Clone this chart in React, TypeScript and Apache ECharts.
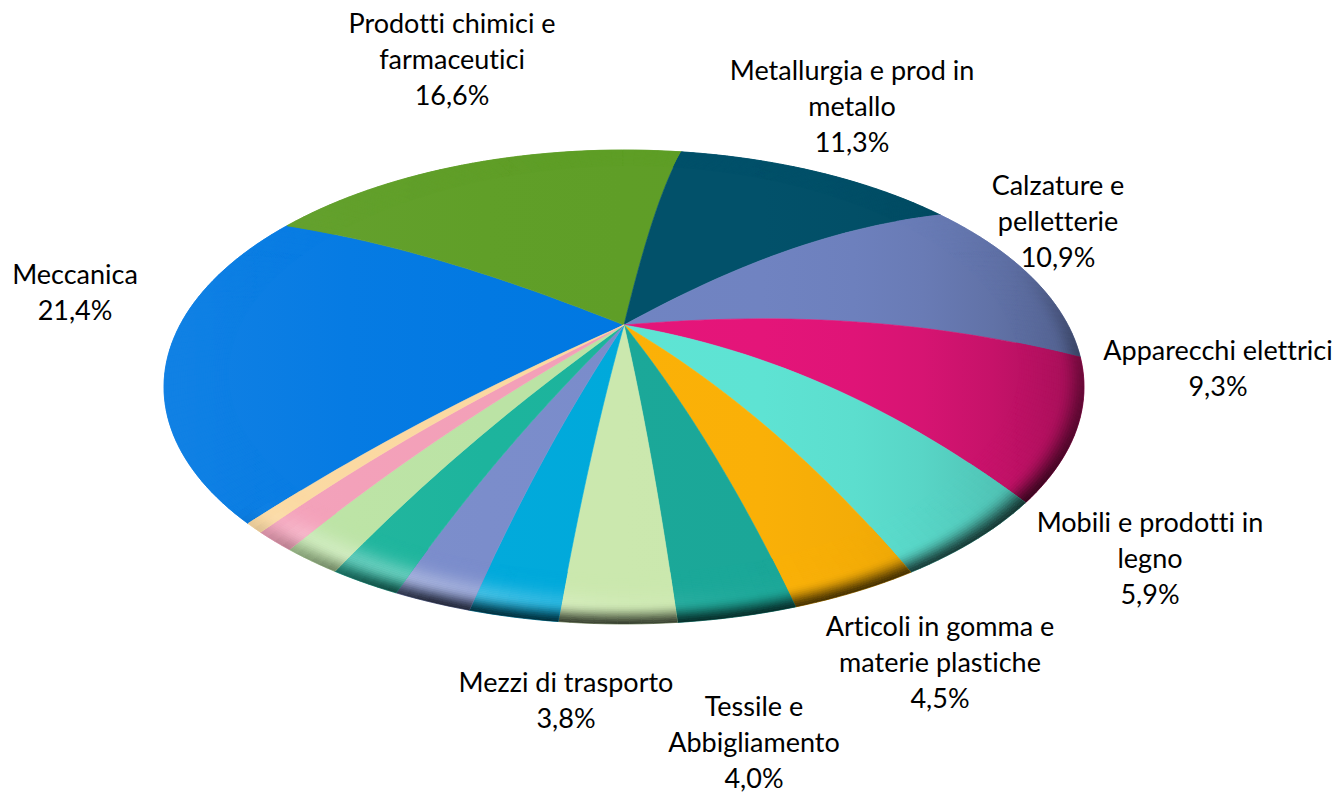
import React, { useEffect, useRef } from "react";
import * as echarts from "echarts";

// Clockwise from the first slice. The last six slices carry no label in the chart.
const categories = [
  "Meccanica",
  "Prodotti chimici e\nfarmaceutici",
  "Metallurgia e prod in\nmetallo",
  "Calzature e\npelletterie",
  "Apparecchi elettrici",
  "Mobili e prodotti in\nlegno",
  "Articoli in gomma e\nmaterie plastiche",
  "Tessile e\nAbbigliamento",
  "Mezzi di trasporto",
  "", "", "", "", "", "",
];
const shares = [21.4, 16.6, 11.3, 10.9, 9.3, 5.9, 4.5, 4.0, 3.8, 3.0, 2.7, 2.5, 2.1, 1.5, 0.7];
const colors = [
  "#0078E2", "#5F9E27", "#02516A", "#7084C2", "#E5157A", "#5EE4D4", "#FBB107", "#1BA899",
  "#CBE8AE", "#00A9DB", "#7A8CCB", "#1CB49C", "#BBE3A4", "#F39FB8", "#FBD8A0",
];
const labelCentres: [number, number][] = [
  [75, 291], [452, 58], [852, 105], [1058, 220], [1218, 367], [1150, 557], [940, 661], [754, 741], [566, 699],
];

const CX = 624, CY = 387, A = 460, B = 237, DOME = 62;
const RAD = Math.PI / 180;
const total = shares.reduce((s, v) => s + v, 0);
let running = 0;
const rows = shares.map((v) => {
  const r = [running, running + v];
  running += v;
  return r;
});

// Share position -> rim angle (degrees, clockwise from the top), with the slight perspective drift.
const rimAngle = (share: number) => {
  const t = (share / total) * 360;
  return (
    t + 231.7 +
    5 * Math.cos((t - 30) * RAD) +
    1.3 * Math.cos(2 * (t - 100) * RAD) +
    1.3 * Math.exp(-Math.pow((t - 238) / 24, 2)) -
    1.0 * Math.exp(-Math.pow((t - 295) / 18, 2))
  );
};
const tilt = (deg: number) => {
  const d = ((deg % 360) + 360) % 360;
  const left = d > 180 ? 10 * Math.abs(Math.sin(d * RAD)) : 0;
  return left - 12 * Math.exp(-Math.pow((d - 115) / 24, 2));
};
const project = (r: number, deg: number): [number, number] => [
  CX + A * r * Math.sin(deg * RAD),
  CY - B * r * Math.cos(deg * RAD) - DOME * (1 - Math.pow(r, 2.2)) + 4 * r * (1 - r) * tilt(deg),
];

const hexRgb = (h: string) => [1, 3, 5].map((i) => parseInt(h.slice(i, i + 2), 16));
const mix = (c: number[], to: number, k: number) => c.map((v) => v + (to - v) * k);
const css = (c: number[]) => `rgb(${c.map((v) => Math.round(v)).join(",")})`;
const smooth = (a: number, b: number, x: number) => {
  const t = Math.min(1, Math.max(0, (x - a) / (b - a)));
  return t * t * (3 - 2 * t);
};
const broad = (c: number[], tx: number) =>
  tx > 0 ? mix(c, 0, 0.3 * Math.pow(tx, 3.5)) : mix(c, 255, 0.07 * tx * tx);

const RIM_FROM = 0.86;
const rimColour = (c: number[], r: number, deg: number) => {
  const d = ((deg % 360) + 360) % 360;
  const x = CX + A * r * Math.sin(d * RAD);
  let out = broad(c, (x - CX) / A);
  const u = (r - RIM_FROM) / (1 - RIM_FROM);
  const hi =
    Math.exp(-Math.pow((d - 212) / 30, 2)) *
    (1 - smooth(226, 238, d)) *
    Math.exp(-Math.pow((u - 0.66) / 0.26, 2)) *
    0.3;
  out = mix(out, 255, hi);
  const darkW = d < 60 ? 0 : d < 120 ? (d - 60) / 60 : d < 205 ? 1 : d < 238 ? (238 - d) / 33 : 0;
  const dk = darkW * 0.72 * Math.pow(smooth(0.55, 1.02, u), 1.6);
  return css(mix(out, 0, dk));
};

const RIM_BANDS: number[] = [];
for (let k = 0; k <= 28; k++) RIM_BANDS.push(RIM_FROM + (1 - RIM_FROM) * (k / 28));

function renderSlice(params: any, api: any) {
  const i = params.dataIndex;
  const a0 = rimAngle(api.value(0));
  const a1 = rimAngle(api.value(1));
  const base = hexRgb(colors[i]);
  const n = Math.max(2, Math.ceil((a1 - a0) / 1.5));
  const angle = (k: number) => a0 + ((a1 - a0) * k) / n;

  const pts: [number, number][] = [];
  for (let k = 0; k <= 30; k++) pts.push(project(k / 30, a0));
  for (let k = 1; k <= n; k++) pts.push(project(1, angle(k)));
  for (let k = 29; k > 0; k--) pts.push(project(k / 30, a1));

  const stops = [-1, -0.6, -0.3, 0, 0.3, 0.5, 0.65, 0.8, 0.9, 1].map((tx) => ({
    offset: (tx + 1) / 2,
    color: css(broad(base, tx)),
  }));
  const grad = new echarts.graphic.LinearGradient(CX - A, 0, CX + A, 0, stops, true);

  const children: any[] = [
    { type: "polygon", shape: { points: pts }, style: { fill: grad, stroke: grad, lineWidth: 0.6 }, silent: true },
  ];
  for (let b = 0; b < RIM_BANDS.length - 1; b++) {
    const r0 = RIM_BANDS[b];
    const r1 = RIM_BANDS[b + 1];
    for (let k = 0; k < n; k++) {
      const p0 = angle(k);
      const p1 = angle(k + 1);
      const fill = rimColour(base, (r0 + r1) / 2, (p0 + p1) / 2);
      children.push({
        type: "polygon",
        shape: { points: [project(r0, p0), project(r0, p1), project(r1, p1), project(r1, p0)] },
        style: { fill, stroke: fill, lineWidth: 0.5 },
        silent: true,
      });
    }
  }
  return { type: "group", children };
}

const labelText = (i: number) => `${categories[i]}\n${shares[i].toFixed(1).replace(".", ",")}%`;

export default function App() {
  const ref = useRef<HTMLDivElement>(null);
  useEffect(() => {
    const chart = echarts.init(ref.current!, undefined, { renderer: "svg" });
    chart.setOption({
      animation: false,
      backgroundColor: "#ffffff",
      series: [
        {
          type: "custom",
          coordinateSystem: "none",
          silent: true,
          renderItem: renderSlice,
          data: rows,
        },
      ],
      graphic: labelCentres.map(([x, y], i) => ({
        type: "text",
        x,
        y,
        z: 10,
        silent: true,
        style: {
          text: labelText(i),
          align: "center",
          verticalAlign: "middle",
          fontFamily: "Lato",
          fontSize: 27,
          lineHeight: 36,
          fill: "#000000",
        },
      })),
    });
    return () => chart.dispose();
  }, []);
  return (
    <div
      ref={ref}
      style={{ position: "fixed", left: 0, top: 0, width: 1340, height: 792, fontVariantLigatures: "none" }}
    />
  );
}
